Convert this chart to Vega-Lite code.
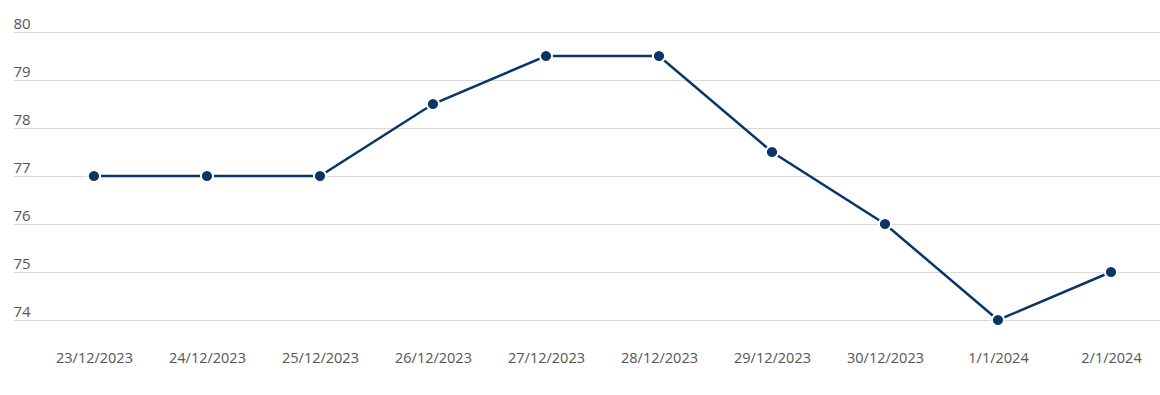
{
  "$schema": "https://vega.github.io/schema/vega-lite/v6.json",
  "width": 1147,
  "height": 288,
  "autosize": {"type": "none"},
  "padding": {"left": 13, "top": 32, "right": 0, "bottom": 75},
  "background": "white",
  "config": {"view": {"stroke": null}, "font": "Open Sans"},
  "data": {"values": [
    {"date": "23/12/2023", "value": 77},
    {"date": "24/12/2023", "value": 77},
    {"date": "25/12/2023", "value": 77},
    {"date": "26/12/2023", "value": 78.5},
    {"date": "27/12/2023", "value": 79.5},
    {"date": "28/12/2023", "value": 79.5},
    {"date": "29/12/2023", "value": 77.5},
    {"date": "30/12/2023", "value": 76},
    {"date": "1/1/2024", "value": 74},
    {"date": "2/1/2024", "value": 75}
  ]},
  "encoding": {
    "x": {"field": "date", "type": "ordinal", "sort": null,
      "scale": {"type": "point", "padding": 0.575, "align": 0.623},
      "axis": {"title": null, "labelAngle": 0, "ticks": false, "tickSize": 0, "domain": false, "grid": false,
        "labelPadding": 31, "labelFontSize": 14.5, "labelColor": "#555555", "labelFont": "Open Sans", "labelOverlap": false}},
    "y": {"field": "value", "type": "quantitative",
      "scale": {"domain": [74, 80], "zero": false, "nice": false},
      "axis": {"title": null, "values": [74, 75, 76, 77, 78, 79, 80], "ticks": false, "tickSize": 0, "domain": false,
        "grid": true, "gridColor": "#d9d9d9", "gridWidth": 1, "labelOverlap": false,
        "labelAlign": "left", "labelBaseline": "alphabetic", "labelPadding": 0, "labelOffset": -4,
        "labelFontSize": 15, "labelColor": "#555555", "labelFont": "Open Sans"}}
  },
  "layer": [
    {"mark": {"type": "line", "color": "#0b3566", "strokeWidth": 2.5}},
    {"mark": {"type": "point", "filled": true, "fill": "#0b3566", "stroke": "white", "strokeWidth": 2, "strokeOpacity": 1, "opacity": 1, "size": 150}}
  ]
}
